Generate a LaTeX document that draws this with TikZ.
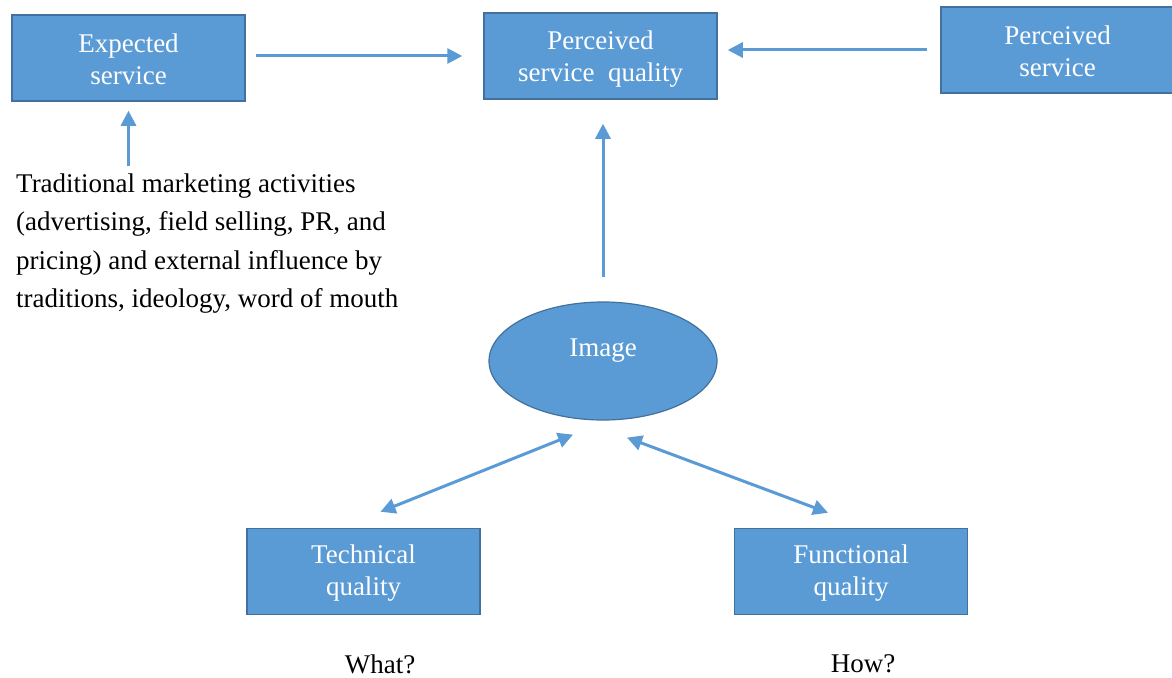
\documentclass[tikz,border=0pt]{standalone}
\usepackage{fontspec}
\setmainfont{Liberation Serif}
\usetikzlibrary{arrows.meta,shapes.geometric}
\definecolor{boxfill}{HTML}{5B9BD5}
\definecolor{boxline}{HTML}{41719C}
\begin{document}
\begin{tikzpicture}[x=1pt,y=-1pt,
  box/.style={draw=boxline,fill=boxfill,line width=1.5pt,minimum width=233pt,minimum height=86pt,
    inner sep=0pt,align=center,text=white,font=\fontsize{27}{32}\selectfont},
  boxlabel/.style={inner sep=0pt,align=center,text=white,font=\fontsize{27}{32}\selectfont},
  imgshape/.style={ellipse,draw=boxline,fill=boxfill,line width=1.2pt,minimum width=228pt,minimum height=118pt,inner sep=0pt},
  plain/.style={inner sep=0pt,font=\fontsize{27}{38.3}\selectfont},
  link/.style={draw=boxfill,line width=3pt,-{Triangle[length=15pt,width=15pt]}},
  dbl/.style={draw=boxfill,line width=3pt,{Triangle[length=15pt,width=15pt]}-{Triangle[length=15pt,width=15pt]}}]
\useasboundingbox (0,0) rectangle (1172,677);
\fill[white] (0,0) rectangle (1172,677);

% boxes
\node[box] (exp) at (128.5,58) {};
\node[boxlabel] at ([yshift=-1pt]exp.center) {Expected\\service};
\node[box] (psq) at (600.5,56) {};
\node[boxlabel] at ([yshift=-3pt]psq.center) {Perceived\\service\ \ quality};
\node[box] (ps) at (1057.5,50) {};
\node[boxlabel] at ([yshift=-1pt]ps.center) {Perceived\\service};
\node[box] (tech) at (363.5,571.5) {};
\node[boxlabel] at ([yshift=-2pt]tech.center) {Technical\\quality};
\node[box] (func) at (851,571.5) {};
\node[boxlabel] at ([yshift=-2pt]func.center) {Functional\\quality};
\node[imgshape] (img) at (603,361) {};
\node[boxlabel] (imgtext) at ([yshift=10pt]img.center) {Image};

% free text
\node[plain,anchor=north west,align=left] (mk) at (16,173.5)
  {Traditional marketing activities\\(advertising, field selling, PR, and\\pricing) and external influence by\\traditions, ideology, word of mouth};
\node[plain] (what) at (380,664) {What?};
\node[plain] (how) at (863,664) {How?};

% connectors
\draw[link,shorten <=10pt,shorten >=21pt] (exp.east |- psq.west) -- (psq.west);
\draw[link,shorten <=13pt,shorten >=10pt] (ps.west) -- (ps.west -| psq.east);
\draw[link,shorten <=8pt,shorten >=9pt] (exp.south |- mk.north) -- (exp.south);
\draw[link,shorten <=24pt,shorten >=24pt] (img.north) -- (img.north |- psq.south);
\draw[dbl] ([xshift=17pt,yshift=16pt]tech.north) -- ([xshift=-30pt,yshift=-14pt]img.south);
\draw[dbl] ([xshift=24pt,yshift=-17pt]img.south) -- ([xshift=-23pt,yshift=15pt]func.north);
\end{tikzpicture}
\end{document}
